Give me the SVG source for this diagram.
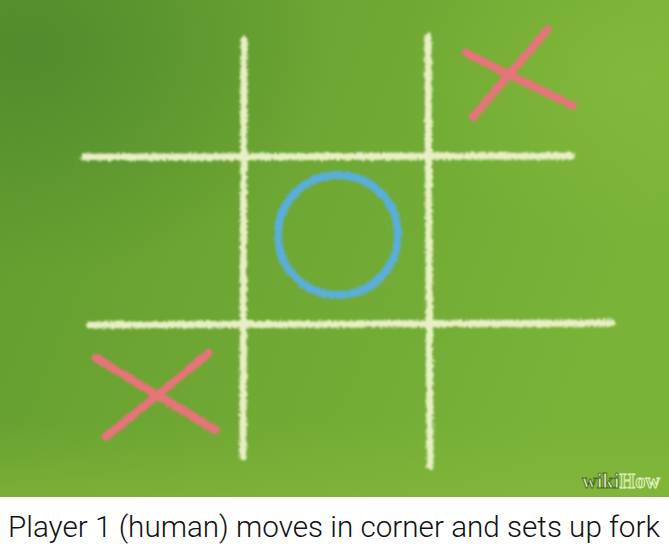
<svg xmlns="http://www.w3.org/2000/svg" width="669" height="551" viewBox="0 0 669 551">
  <defs>
    <linearGradient id="bg" x1="0" y1="0" x2="1" y2="0.3">
      <stop offset="0" stop-color="#629c2f"/>
      <stop offset="0.5" stop-color="#6ea733"/>
      <stop offset="1" stop-color="#79b338"/>
    </linearGradient>
    <radialGradient id="dark" cx="0.05" cy="0.1" r="0.45">
      <stop offset="0" stop-color="#3f7a2a" stop-opacity="0.5"/>
      <stop offset="1" stop-color="#3f7a2a" stop-opacity="0"/>
    </radialGradient>
    <radialGradient id="lite" cx="0.95" cy="0.15" r="0.35">
      <stop offset="0" stop-color="#8cc040" stop-opacity="0.5"/>
      <stop offset="1" stop-color="#8cc040" stop-opacity="0"/>
    </radialGradient>
    <linearGradient id="bottom" x1="0" y1="0" x2="0" y2="1">
      <stop offset="0" stop-color="#88b83c" stop-opacity="0"/>
      <stop offset="1" stop-color="#88b83c" stop-opacity="0.55"/>
    </linearGradient>
    <filter id="chalk" x="-10%" y="-10%" width="120%" height="120%">
      <feTurbulence type="fractalNoise" baseFrequency="0.35" numOctaves="2" seed="3" result="n"/>
      <feDisplacementMap in="SourceGraphic" in2="n" scale="5" xChannelSelector="R" yChannelSelector="G" result="d"/>
      <feGaussianBlur in="d" stdDeviation="0.9"/>
    </filter>
    <style>
      .grid { stroke: #e8efc6; stroke-width: 7; stroke-linecap: round; fill: none; }
      .x { stroke: #e8737a; stroke-width: 8; stroke-linecap: round; fill: none; }
      .o { stroke: #5aaedc; stroke-width: 8; fill: none; }
      .caption { font-family: Roboto, "Liberation Sans", Arial, sans-serif; font-weight: 300; font-size: 29px; fill: #111111; }
      .logo { font-family: "Liberation Serif", "DejaVu Serif", serif; font-weight: bold; font-size: 20px; }
    </style>
  </defs>
  <rect x="0" y="0" width="669" height="551" fill="#ffffff"/>
  <g id="board-bg">
    <rect x="0" y="0" width="669" height="497" fill="url(#bg)"/>
    <rect x="0" y="0" width="669" height="497" fill="url(#dark)"/>
    <rect x="0" y="0" width="669" height="497" fill="url(#lite)"/>
    <rect x="0" y="420" width="669" height="77" fill="url(#bottom)"/>
  </g>
  <g id="grid" filter="url(#chalk)">
    <line class="grid" x1="244" y1="40" x2="243" y2="457"/>
    <line class="grid" x1="428" y1="37" x2="430" y2="466"/>
    <line class="grid" x1="84" y1="157" x2="571" y2="156"/>
    <line class="grid" x1="90" y1="325" x2="611" y2="323"/>
  </g>
  <g id="x-top-right" filter="url(#chalk)">
    <line class="x" x1="466" y1="53" x2="573" y2="106"/>
    <line class="x" x1="548" y1="29" x2="473" y2="117"/>
  </g>
  <g id="o-center" filter="url(#chalk)">
    <circle class="o" cx="338" cy="235" r="60"/>
  </g>
  <g id="x-bottom-left" filter="url(#chalk)">
    <line class="x" x1="96" y1="358" x2="215" y2="430"/>
    <line class="x" x1="209" y1="353" x2="106" y2="437"/>
  </g>
  <g id="logo">
    <text x="582" y="488" class="logo" textLength="78" lengthAdjust="spacingAndGlyphs"><tspan fill="#dde6c6" stroke="#4d6e22" stroke-width="0.9">wiki</tspan><tspan fill="#8cc24c" stroke="#e4f2c4" stroke-width="0.9">How</tspan></text>
  </g>
  <g id="caption">
    <text x="8" y="537" class="caption" textLength="652" lengthAdjust="spacingAndGlyphs">Player 1 (human) moves in corner and sets up fork</text>
  </g>
</svg>
